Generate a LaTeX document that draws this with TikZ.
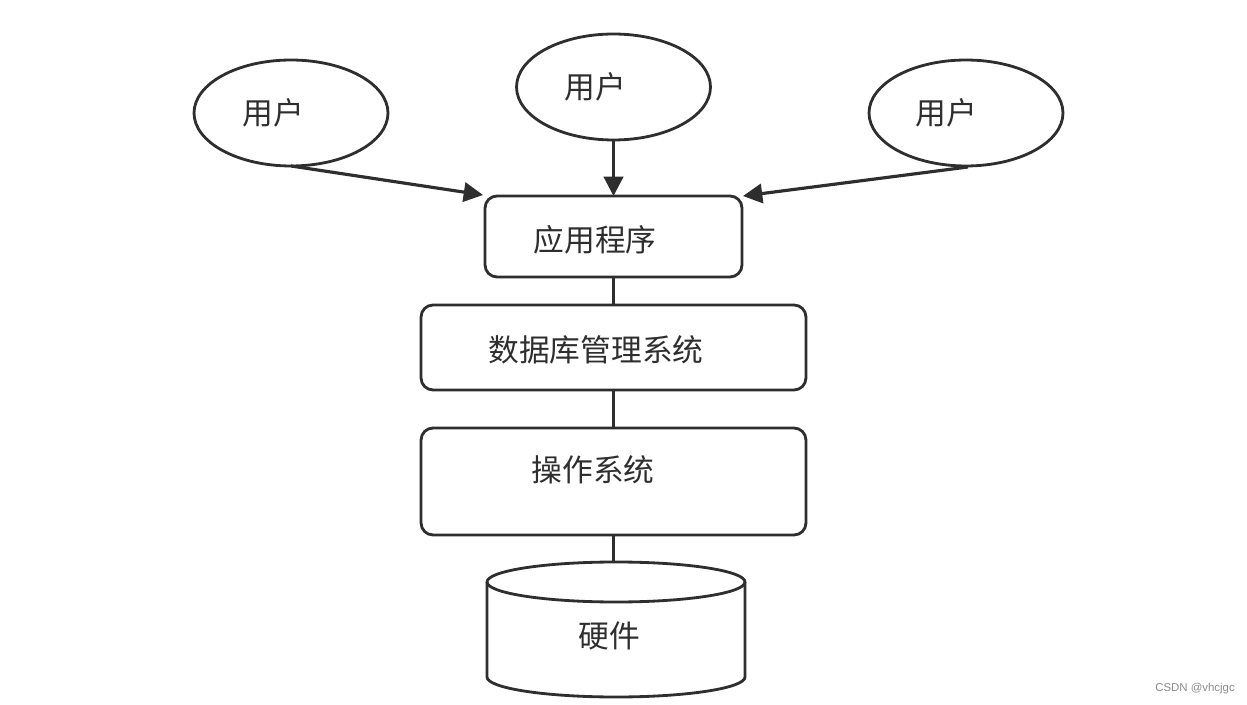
\documentclass[tikz,border=0pt]{standalone}
\usepackage{fontspec}
\newfontfamily\cjk{Noto Sans CJK SC}
\newfontfamily\wmfont{Liberation Sans}
\usetikzlibrary{shapes.geometric,arrows.meta,calc}
\definecolor{ink}{HTML}{2E2E2E}
\definecolor{wm}{HTML}{8A8A8A}
\begin{document}
\begin{tikzpicture}[x=0.02cm,y=0.02cm,
  every node/.style={inner sep=0pt,outer sep=0pt},
  userell/.style={ellipse,draw=ink,line width=1.6pt,minimum width=3.88cm,minimum height=2.12cm},
  layerbox/.style={draw=ink,line width=1.6pt,rounded corners=0.24cm},
  lbl/.style={font=\cjk\fontsize{17.5}{20}\selectfont,text=ink},
  conn/.style={draw=ink,line width=1.6pt},
  arr/.style={conn,line width=1.8pt,-{Triangle[length=11pt,width=11pt]}}]
\useasboundingbox (0,0) rectangle (1247,-705);
% users
\node[userell] (u1) at (291,-113) {};
\node[userell] (u2) at (613.5,-87) {};
\node[userell] (u3) at (966,-113) {};
\node[lbl] (t1) at (273,-113) {用户};
\node[lbl] (t2) at (595,-87) {用户};
\node[lbl] (t3) at (946,-113) {用户};
% layers
\node[layerbox,minimum width=5.14cm,minimum height=1.62cm] (app) at (613.5,-236.5) {};
\node[layerbox,minimum width=7.70cm,minimum height=1.70cm] (db) at (613.5,-347.5) {};
\node[layerbox,minimum width=7.70cm,minimum height=2.14cm] (os) at (613.5,-481.5) {};
\node[lbl] (tapp) at (595,-240) {应用程序};
\node[lbl] (tdb) at (596,-350) {数据库管理系统};
\node[lbl] (tos) at (593,-470) {操作系统};
% cylinder
\coordinate (cyltop) at (613.5,-562);
\draw[conn,fill=white] (487,-582) -- (487,-677)
  arc[start angle=180,end angle=360,x radius=129,y radius=20]
  -- (745,-582);
\draw[conn] (616,-582) ellipse[x radius=129,y radius=20];
\node[lbl] (thw) at (609,-636) {硬件};
% connectors
\draw[arr] (u1.south) -- ($(app.north west)+(-2,1)$);
\draw[arr] (u2.south) -- (app.north);
\draw[arr] ($(u3.south)+(2,-1)$) -- ($(app.north east)+(1,0)$);
\draw[conn] (app.south) -- (db.north);
\draw[conn] (db.south) -- (os.north);
\draw[conn] (os.south) -- (cyltop);
% watermark
\node[font=\wmfont\fontsize{6.5}{8}\selectfont,text=wm] (wmk) at (1195,-689) {CSDN @vhcjgc};
\end{tikzpicture}
\end{document}
